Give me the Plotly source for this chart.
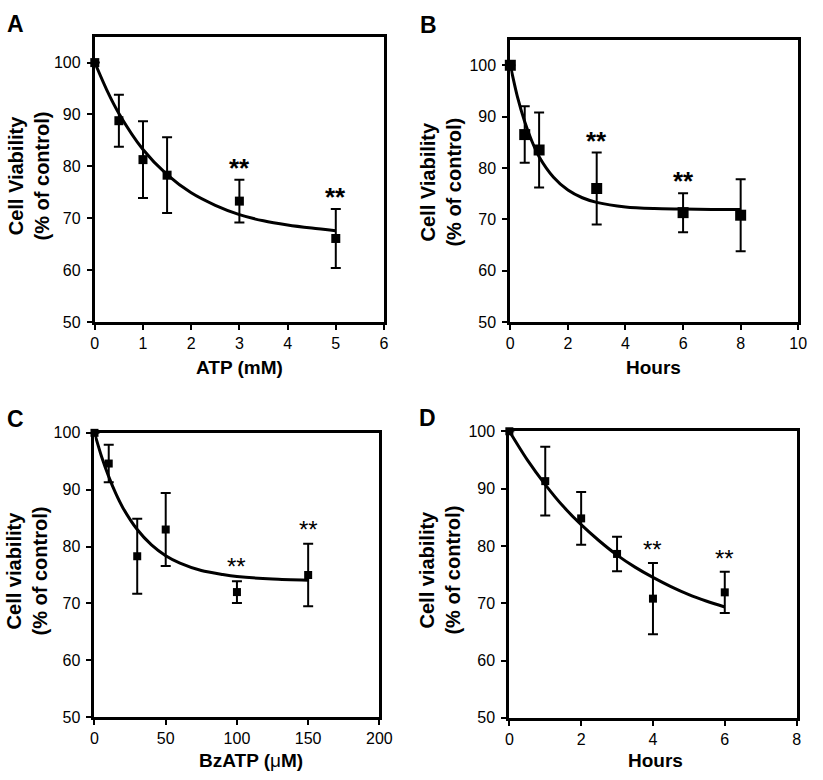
import plotly.graph_objects as go

W, H = 823, 780

# ---------------- data ----------------
A_x = [0, 0.5, 1, 1.5, 3, 5]
A_y = [100, 88.8, 81.3, 78.3, 73.3, 66.1]
A_err = [0, 5.0, 7.4, 7.3, 4.1, 5.7]
A_sig = [False, False, False, False, True, True]
A_fit_x = [0, 0.25, 0.5, 1, 1.5, 2, 2.5, 3, 3.5, 4, 4.5, 5]
A_fit_y = [100, 94.7, 90.2, 83.25, 78.4, 74.9, 72.5, 70.7, 69.5, 68.7, 68.1, 67.6]

B_x = [0, 0.5, 1, 3, 6, 8]
B_y = [100, 86.5, 83.5, 76.0, 71.3, 70.8]
B_err = [0, 5.5, 7.3, 7.0, 3.8, 7.0]
B_sig = [False, False, False, True, True, False]
B_fit_x = [0, 0.25, 0.5, 0.75, 1, 1.5, 2, 2.5, 3, 4, 5, 6, 7, 8]
B_fit_y = [100, 93.8, 89.0, 85.2, 82.2, 78.2, 75.7, 74.2, 73.3, 72.4, 72.1, 72.0, 71.9, 71.9]

C_x = [0, 10, 30, 50, 100, 150]
C_y = [100, 94.6, 78.3, 83.0, 72.0, 75.0]
C_err = [0, 3.3, 6.6, 6.4, 1.9, 5.5]
C_sig = [False, False, False, False, True, True]
C_fit_x = [0, 5, 10, 15, 20, 30, 40, 50, 60, 75, 90, 100, 125, 150]
C_fit_y = [100, 95.8, 92.3, 89.3, 86.8, 83.0, 80.3, 78.4, 77.1, 75.8, 75.1, 74.75, 74.3, 74.1]

D_x = [0, 1, 2, 3, 4, 6]
D_y = [100, 91.3, 84.8, 78.6, 70.8, 71.9]
D_err = [0, 6.0, 4.6, 3.0, 6.2, 3.6]
D_sig = [False, False, False, False, True, True]
D_fit_x = [0, 0.5, 1, 1.5, 2, 2.5, 3, 3.5, 4, 4.5, 5, 5.5, 6]
D_fit_y = [100, 95.0, 90.7, 86.9, 83.7, 80.9, 78.4, 76.3, 74.5, 72.9, 71.5, 70.35, 69.35]

y_ticks = [50, 60, 70, 80, 90, 100]
A_xticks = [0, 1, 2, 3, 4, 5, 6]
B_xticks = [0, 2, 4, 6, 8, 10]
C_xticks = [0, 50, 100, 150, 200]
D_xticks = [0, 2, 4, 6, 8]

FONT = "Liberation Sans, Arial, Helvetica, sans-serif"

# panel frames in pixels: left, right, top, bottom
panels = [
    dict(name="A", ax="", x=A_x, y=A_y, err=A_err, sig=A_sig, fx=A_fit_x, fy=A_fit_y,
         frame=(92.7, 388, 29.3, 321), xr=[0, 6], yr=[50, 105], xt=A_xticks,
         ms=9, bold_star=True, star_shift=-5,
         ytitle=["Cell Viability", "(% of control)"], ytx=25.7, yty=172,
         xtitle="<b>ATP (mM)</b>", xtx=240.8, xty=368, letter_xy=(1, 16.5)),
    dict(name="B", ax="2", x=B_x, y=B_y, err=B_err, sig=B_sig, fx=B_fit_x, fy=B_fit_y,
         frame=(517, 811, 32.3, 321), xr=[0, 10], yr=[50, 105], xt=B_xticks,
         ms=11, bold_star=True, star_shift=-5,
         ytitle=["Cell Viability", "(% of control)"], ytx=446.7, yty=178,
         xtitle="<b>Hours</b>", xtx=663, xty=368, letter_xy=(423, 17.5)),
    dict(name="C", ax="3", x=C_x, y=C_y, err=C_err, sig=C_sig, fx=C_fit_x, fy=C_fit_y,
         frame=(92.4, 383.3, 434.3, 725), xr=[0, 200], yr=[50, 100], xt=C_xticks,
         ms=8, bold_star=False, star_shift=-1,
         ytitle=["Cell viability", "(% of control)"], ytx=23.5, yty=576,
         xtitle="<b>BzATP (</b>μ<b>M)</b>", xtx=252, xty=769, letter_xy=(1, 420)),
    dict(name="D", ax="4", x=D_x, y=D_y, err=D_err, sig=D_sig, fx=D_fit_x, fy=D_fit_y,
         frame=(516, 809.3, 432.7, 725.7), xr=[0, 8], yr=[50, 100], xt=D_xticks,
         ms=8, bold_star=False, star_shift=-2,
         ytitle=["Cell viability", "(% of control)"], ytx=445.3, yty=575,
         xtitle="<b>Hours</b>", xtx=665, xty=769, letter_xy=(422, 419)),
]

fig = go.Figure()
annotations = []
layout_axes = {}

for p in panels:
    xa = "x" + p["ax"]
    ya = "y" + p["ax"]
    l, r, t, b = p["frame"]
    # fitted decay curve
    fig.add_trace(go.Scatter(
        x=p["fx"], y=p["fy"], mode="lines", xaxis=xa, yaxis=ya,
        line=dict(color="black", width=3, shape="spline", smoothing=0.8),
        showlegend=False, hoverinfo="skip", cliponaxis=False))
    # means with error bars
    fig.add_trace(go.Scatter(
        x=p["x"], y=p["y"], mode="markers", xaxis=xa, yaxis=ya,
        marker=dict(symbol="square", size=p["ms"], color="black"),
        error_y=dict(type="data", array=p["err"], symmetric=True,
                     color="black", thickness=2, width=5),
        showlegend=False, cliponaxis=False))
    # significance markers
    for xi, yi, ei, s in zip(p["x"], p["y"], p["err"], p["sig"]):
        if s:
            annotations.append(dict(
                x=xi, y=yi + ei, xref=xa, yref=ya,
                text="<b>**</b>" if p["bold_star"] else "**",
                showarrow=False, xanchor="center", yanchor="bottom",
                yshift=p["star_shift"],
                font=dict(family=FONT, size=26 if p["bold_star"] else 24, color="black")))
    axis_common = dict(
        showline=True, linecolor="black", linewidth=3, mirror=True,
        ticks="outside", ticklen=5, tickwidth=2, tickcolor="black",
        showgrid=False, zeroline=False,
        tickfont=dict(family=FONT, size=16, color="black"),
    )
    layout_axes["xaxis" + p["ax"]] = dict(
        axis_common, domain=[l / W, r / W], range=p["xr"], tickvals=p["xt"],
        anchor=ya)
    layout_axes["yaxis" + p["ax"]] = dict(
        axis_common, domain=[1 - b / H, 1 - t / H], range=p["yr"], tickvals=y_ticks,
        anchor=xa, ticklabelstandoff=3)
    # axis titles and panel letter
    annotations.append(dict(
        x=p["ytx"] / W, y=1 - p["yty"] / H, xref="paper", yref="paper",
        text="<b>" + p["ytitle"][0] + "</b><br><b>" + p["ytitle"][1] + "</b>",
        textangle=-90, showarrow=False, xanchor="center", yanchor="middle",
        font=dict(family=FONT, size=20, color="black")))
    annotations.append(dict(
        x=p["xtx"] / W, y=1 - p["xty"] / H, xref="paper", yref="paper",
        text=p["xtitle"], showarrow=False, xanchor="center", yanchor="middle",
        font=dict(family=FONT, size=19, color="black")))
    lx, ly = p["letter_xy"]
    annotations.append(dict(
        x=lx / W, y=1 - ly / H, xref="paper", yref="paper",
        text="<b>" + p["name"] + "</b>", showarrow=False,
        xanchor="left", yanchor="middle",
        font=dict(family=FONT, size=23, color="black")))

fig.update_layout(
    width=W, height=H,
    margin=dict(l=0, r=0, t=0, b=0),
    paper_bgcolor="white", plot_bgcolor="white",
    annotations=annotations,
    **layout_axes,
)

fig.write_html(
    "out.html",
    config={"displayModeBar": False},
    post_script="document.body.style.margin='0';document.body.style.overflow='hidden';",
)
